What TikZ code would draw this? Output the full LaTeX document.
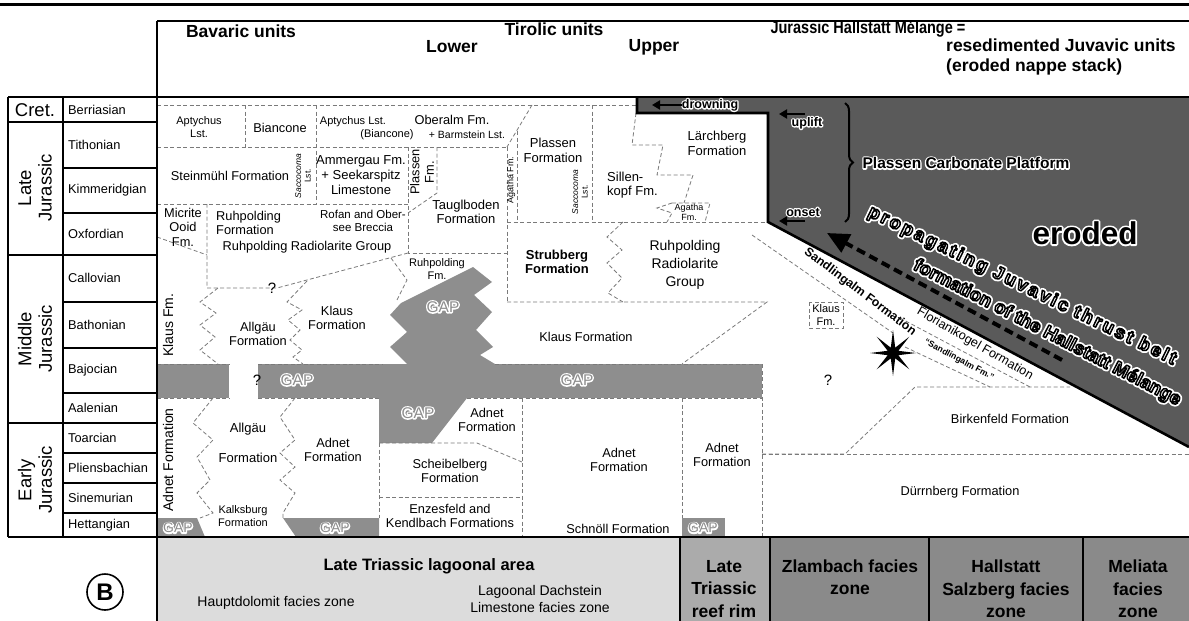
\documentclass[tikz,border=0pt]{standalone}
\usepackage{fontspec}
\setmainfont{Liberation Sans}
\newfontfamily\spacedfont{Liberation Sans}[LetterSpace=13]
\usetikzlibrary{arrows.meta,decorations.pathreplacing,shapes.geometric}

\definecolor{erodedgray}{HTML}{5A5A5A}
\definecolor{gapgray}{HTML}{8E8E8E}
\definecolor{dashgray}{HTML}{7A7A7A}
\definecolor{lagoongray}{HTML}{DCDCDC}
\definecolor{reefgray}{HTML}{ABABAB}
\definecolor{basingray}{HTML}{8A8A8A}

% text with a halo: a stroked copy under the filled text
\makeatletter
\newcommand{\halo}[4]{%
  \rlap{\pgfsys@invoke{#1 w 1 j 1 J 1 Tr}\textcolor{#2}{#4}\pgfsys@invoke{0 Tr}}\textcolor{#3}{#4}}
\newcommand{\whiteoutline}[1]{%
  \rlap{\pgfsys@invoke{5 w 1 j 1 J 1 Tr}\textcolor{white}{#1}\pgfsys@invoke{0 Tr}}%
  \textcolor{white}{\pgfsys@invoke{0 G 1.5 w 1 j 2 Tr}#1\pgfsys@invoke{0 Tr}}}
\makeatother

\begin{document}
\begin{tikzpicture}[x=1pt, y=-1pt,
  frame/.style={line width=2.4pt},
  rule/.style={line width=1.3pt},
  fmline/.style={dashgray, line width=0.8pt, dash pattern=on 4pt off 2.5pt},
  fm/.style={font=\fontsize{12.8}{14.5}\selectfont, align=center, inner sep=0pt},
  fmsmall/.style={font=\fontsize{11}{12.5}\selectfont, align=center, inner sep=0pt},
  fmtiny/.style={font=\fontsize{8.5}{9.5}\selectfont, align=center, inner sep=0pt},
  stage/.style={font=\fontsize{12.8}{14}\selectfont, anchor=west, inner sep=0pt},
  era/.style={font=\fontsize{18.5}{20.5}\selectfont, align=center, inner sep=0pt},
  head/.style={font=\bfseries\fontsize{17.5}{19.5}\selectfont, inner sep=0pt},
  facies/.style={font=\bfseries\fontsize{17.5}{22.5}\selectfont, align=center, inner sep=0pt},
  faciesplain/.style={font=\fontsize{14}{17}\selectfont, align=center, inner sep=0pt},
  gaplabel/.style={font=\fontsize{15.5}{16}\selectfont, inner sep=0pt},
  haloed/.style={font=\bfseries\fontsize{12.5}{13}\selectfont, inner sep=0pt},
  trend/.style={line width=2.6pt, -{Triangle[length=8pt,width=9pt]}}]

\useasboundingbox (0,0) rectangle (1189,621);

% fills
\fill[erodedgray] (637,97) -- (1189,97) -- (1189,447) -- (768,222) -- (768,113) -- (637,113) -- cycle;
\fill[gapgray] (157,364) rectangle (229,398);
\fill[gapgray] (258,364) rectangle (762,398);
\fill[gapgray] (407,364) -- (390,347) -- (407,332) -- (390,315) -- (401,303) -- (473,267) -- (492,282)
  -- (474,295) -- (492,312) -- (476,330) -- (493,347) -- (480,355) -- (495,364) -- cycle;
\fill[gapgray] (379,398) -- (467,398) -- (432,443) -- (379,443) -- cycle;
\fill[gapgray] (157,518) -- (197,518) -- (205,537) -- (157,537) -- cycle;
\fill[gapgray] (283,518) -- (379,518) -- (379,537) -- (296,537) -- cycle;
\fill[gapgray] (682,518) rectangle (725,537);
\fill[lagoongray] (157,537) rectangle (680,621);
\fill[reefgray] (680,537) rectangle (770,621);
\fill[basingray] (770,537) rectangle (1189,621);

% formation boundaries
\draw[fmline] (157,105) -- (636,105);
\draw[fmline] (245,105) -- (245,147);
\draw[fmline] (316,105) -- (316,204);
\draw[fmline] (157,147) -- (507,147);
\draw[fmline] (532,105) -- (507,147);
\draw[fmline] (517,131) -- (517,222);
\draw[fmline] (592,105) -- (592,222);
\draw[fmline] (157,204) -- (408,204);
\draw[fmline] (408,147) -- (408,253) -- (507,253);
\draw[fmline] (437,147) -- (437,193) -- (408,213);
\draw[fmline] (507,147) -- (507,302);
\draw[fmline] (507,222) -- (768,222);
\draw[fmline] (408,253) -- (277,288) -- (207,288) -- (207,204);
\draw[fmline] (157,237) -- (207,255);
\draw[fmline] (636,113) -- (632,145) -- (663,145) -- (657,175) -- (693,175) -- (684,203);
\draw[fmline] (672,203) -- (710,203) -- (705,222);
\draw[fmline] (672,203) -- (657,208) -- (672,213) -- (667,222);
\draw[fmline] (623,222) -- (607,237) -- (622,250) -- (607,263) -- (622,278) -- (608,293) -- (623,302);
\draw[fmline] (507,302) -- (767,302) -- (682,364);
\draw[fmline] (218,288) -- (200,302) -- (216,313) -- (200,325) -- (215,337) -- (200,350) -- (218,364);
\draw[fmline] (307,281) -- (287,302) -- (302,310) -- (288,320) -- (300,330) -- (290,340) -- (302,350)
  -- (293,357) -- (303,364);
\draw[fmline] (391,258) -- (407,280) -- (397,300);
\draw[fmline] (157,364) -- (229,364) (258,364) -- (382,364) (495,364) -- (762,364);
\draw[fmline] (157,398) -- (229,398) (258,398) -- (379,398) (467,398) -- (762,398);
\draw[fmline] (213,398) -- (193,423) -- (213,440) -- (197,457) -- (210,480) -- (197,493) -- (213,513) -- (200,518);
\draw[fmline] (295,398) -- (280,417) -- (295,440) -- (280,453) -- (295,467) -- (280,480) -- (295,493)
  -- (283,513) -- (283,518);
\draw[fmline] (379,443) -- (477,443) -- (522,462);
\draw[fmline] (379,497) -- (522,497);
\draw[fmline] (379,443) -- (379,518);
\draw[fmline] (522,398) -- (522,537);
\draw[fmline] (682,398) -- (682,518);
\draw[fmline] (762,364) -- (762,537);
\draw[fmline] (762,454) -- (845,454) -- (915,387) -- (1070,387);
\draw[fmline] (762,454) -- (1189,454);
\draw[fmline] (752,235) -- (893,333);
\draw[fmline] (809,302) rectangle (843,328);
\draw[fmline] (900,318) -- (1030,387);
\draw[fmline] (905,347) -- (990,387);

% frame
\draw[line width=3pt] (0,4) -- (1189,4);
\draw[frame] (157,21) -- (1189,21);
\draw[frame] (157,21) -- (157,621);
\draw[frame] (8,97) -- (1189,97);
\draw[frame] (8,537) -- (1189,537);
\draw[frame] (8,97) -- (8,537);
\draw[frame] (63,97) -- (63,537);
\draw[frame] (8,122) -- (157,122) (8,255) -- (157,255) (8,423) -- (157,423);
\foreach \yy in {168,213,302,348,393,453,483,513}
  \draw[rule] (63,\yy) -- (157,\yy);
\foreach \xx in {680,770,929,1083}
  \draw[frame] (\xx,537) -- (\xx,621);
\draw[line width=2.6pt, line join=miter] (637,97) -- (637,113) -- (768,113) -- (768,222) -- (1189,447);

% time scale
\node[era] (cret) at (35,110) {Cret.};
\node[era, rotate=90] (latej) at (35,188) {Late\\Jurassic};
\node[era, rotate=90] (midj) at (35,339) {Middle\\Jurassic};
\node[era, rotate=90] (earlyj) at (35,480) {Early\\Jurassic};
\node[stage] (berr) at (68,110) {Berriasian};
\node[stage] (tith) at (68,145) {Tithonian};
\node[stage] (kimm) at (68,190) {Kimmeridgian};
\node[stage] (oxf) at (68,234) {Oxfordian};
\node[stage] (call) at (68,278) {Callovian};
\node[stage] (bath) at (68,325) {Bathonian};
\node[stage] (baj) at (68,370) {Bajocian};
\node[stage] (aal) at (68,408) {Aalenian};
\node[stage] (toarc) at (68,438) {Toarcian};
\node[stage] (plie) at (68,468) {Pliensbachian};
\node[stage] (sine) at (68,498) {Sinemurian};
\node[stage] (hett) at (68,525) {Hettangian};

% headings
\node[head] (bavaric) at (241,31) {Bavaric units};
\node[head] (tirolic) at (554,29) {Tirolic units};
\node[head] (lower) at (452,47) {Lower};
\node[head] (upper) at (654,47) {Upper};
\node[head] (melange) at (868,29) {\scalebox{0.83}[1]{Jurassic Hallstatt Mélange =}};
\node[head, align=left, anchor=west] (juvavic) at (946,57) {resedimented Juvavic units\\(eroded nappe stack)};

% Berriasian to Oxfordian
\node[fmsmall] (aptychus) at (199,127) {Aptychus\\Lst.};
\node[fm] (biancone) at (280,128) {Biancone};
\node[fmsmall] (aptychusb) at (353,122) {Aptychus Lst.};
\node[fmsmall] (bianconeb) at (387,135) {(Biancone)};
\node[fm] (oberalm) at (452,120) {Oberalm Fm.};
\node[fmsmall, font=\fontsize{10.5}{12}\selectfont] (barmstein) at (467,135) {+ Barmstein Lst.};
\node[fm] (steinmuehl) at (230,176) {Steinmühl Formation};
\node[fmtiny, rotate=90] (saccoa) at (303,176) {{\itshape Saccocoma}\\Lst.};
\node[fm, font=\fontsize{13}{15}\selectfont] (ammergau) at (361,175) {Ammergau Fm.\\+ Seekarspitz\\Limestone};
\node[fm, rotate=90] (plassenfm) at (422,172) {Plassen\\Fm.};
\node[fm, font=\fontsize{13}{14.5}\selectfont] (tauglboden) at (466,212) {Tauglboden\\Formation};
\node[fmtiny, font=\fontsize{9}{10}\selectfont, rotate=90] (agathaa) at (511,180) {Agatha Fm.};
\node[fm, font=\fontsize{13}{15}\selectfont] (plassen) at (553,150) {Plassen\\Formation};
\node[fmtiny, rotate=90] (saccob) at (580,192) {{\itshape Saccocoma}\\Lst.};
\node[fm, font=\fontsize{13}{15}\selectfont] (laerchberg) at (717,143) {Lärchberg\\Formation};
\node[fm, font=\fontsize{13}{14.5}\selectfont, align=left, anchor=west] (sillenkopf) at (607,185) {Sillen-\\kopf Fm.};
\node[fmtiny, font=\fontsize{9}{10}\selectfont] (agathab) at (689,212) {Agatha\\Fm.};
\node[fm] (micrite) at (183,227) {Micrite\\Ooid\\Fm.};
\node[fm, align=left, anchor=west] (ruhpfm) at (216,223) {Ruhpolding\\Formation};
\node[fm] (ruhpgroup) at (307,247) {Ruhpolding Radiolarite Group};
\node[fmsmall, font=\fontsize{11.5}{12.5}\selectfont] (rofan) at (363,221) {Rofan and Ober-\\see Breccia};
\node[fm, font=\bfseries\fontsize{13}{14.5}\selectfont] (strubberg) at (557,262) {Strubberg\\Formation};
\node[fm, font=\fontsize{14}{18}\selectfont] (ruhpgroupb) at (685,265) {Ruhpolding\\Radiolarite\\Group};

% Callovian to Aalenian
\node[fm, font=\fontsize{14}{14}\selectfont, rotate=90] (klausfm) at (168,325) {Klaus Fm.};
\node[fm] (allgaeu) at (258,334) {Allgäu\\Formation};
\node[fm] (klausa) at (337,318) {Klaus\\Formation};
\node[fmsmall] (ruhpsmall) at (437,269) {Ruhpolding\\Fm.};
\node[fm] (klausb) at (586,337) {Klaus Formation};
\node[fm, font=\fontsize{15}{15}\selectfont] (querya) at (272,288) {?};
\node[fm, font=\fontsize{15}{15}\selectfont] (queryb) at (257,380) {?};
\node[gaplabel] (gapa) at (443,307) {\halo{2.8}{white}{gapgray}{GAP}};
\node[gaplabel] (gapb) at (297,380) {\halo{2.8}{white}{gapgray}{GAP}};
\node[gaplabel] (gapc) at (577,380) {\halo{2.8}{white}{gapgray}{GAP}};
\node[gaplabel] (gapd) at (418,413) {\halo{2.8}{white}{gapgray}{GAP}};

% Toarcian to Hettangian
\node[fm, font=\fontsize{14}{14}\selectfont, rotate=90] (adneta) at (168,460) {Adnet Formation};
\node[fm, font=\fontsize{13}{15}\selectfont] (allgaeub) at (248,443) {Allgäu\\[15pt]Formation};
\node[fmsmall] (kalksburg) at (243,516) {Kalksburg\\Formation};
\node[fm] (adnetb) at (333,450) {Adnet\\Formation};
\node[fm] (adnetc) at (487,420) {Adnet\\Formation};
\node[fm] (scheibelberg) at (450,471) {Scheibelberg\\Formation};
\node[fm] (enzesfeld) at (450,516) {Enzesfeld and\\Kendlbach Formations};
\node[fm] (adnetd) at (619,460) {Adnet\\Formation};
\node[fm] (adnete) at (722,455) {Adnet\\Formation};
\node[fm] (schnoell) at (618,529) {Schnöll Formation};
\node[gaplabel, font=\fontsize{14}{14}\selectfont] (gape) at (178,528) {\halo{2.6}{white}{gapgray}{GAP}};
\node[gaplabel, font=\fontsize{14}{14}\selectfont] (gapf) at (335,528) {\halo{2.6}{white}{gapgray}{GAP}};
\node[gaplabel, font=\fontsize{14}{14}\selectfont] (gapg) at (703,528) {\halo{2.6}{white}{gapgray}{GAP}};

% Hallstatt Melange
\node[fm, font=\bfseries\fontsize{12.3}{13}\selectfont, rotate=-37] (sandlinga) at (860,292) {Sandlingalm Formation};
\node[fm, font=\fontsize{12.6}{13}\selectfont, rotate=-30] (florian) at (975,344) {Florianikogel Formation};
\node[fm, font=\bfseries\fontsize{8.6}{9}\selectfont, rotate=-28] (sandlingb) at (959,360) {“Sandlingalm Fm.”};
\node[fmsmall] (klausc) at (826,315) {Klaus\\Fm.};
\node[fm, font=\fontsize{15}{15}\selectfont] (queryc) at (828,380) {?};
\node[star, star points=8, star point ratio=4, fill=black, minimum size=46pt, inner sep=0pt] (blast) at (893,353) {};
\node[fm] (birkenfeld) at (1010,419) {Birkenfeld Formation};
\node[fm] (duerrnberg) at (960,492) {Dürrnberg Formation};

% platform history
\node[haloed] (drowning) at (710,105) {\halo{2.6}{white}{black}{drowning}};
\node[haloed] (uplift) at (807,123) {\halo{2.6}{white}{black}{uplift}};
\node[haloed] (onset) at (803,212) {\halo{2.6}{white}{black}{onset}};
\coordinate (drownend) at (652,105);
\coordinate (upliftfrom) at (805,114);
\coordinate (upliftto) at (779,114);
\coordinate (onsetfrom) at (805,221);
\coordinate (onsetto) at (779,221);
\draw[trend] (drowning.west) -- (drownend);
\draw[trend] (upliftfrom) -- (upliftto);
\draw[trend] (onsetfrom) -- (onsetto);
\coordinate (bracetop) at (845,103);
\coordinate (bracebot) at (845,222);
\draw[line width=2pt, decorate, decoration={brace, amplitude=8pt}] (bracetop) -- (bracebot);
\node[haloed, font=\bfseries\fontsize{15.5}{16}\selectfont] (platform) at (966,163) {\halo{2.8}{white}{black}{Plassen Carbonate Platform}};
\node[haloed, font=\bfseries\fontsize{31.5}{32}\selectfont] (eroded) at (1085,233) {\halo{3.6}{white}{black}{eroded}};
\coordinate (thrusttail) at (1062,360);
\coordinate (thrusthead) at (827,233);
\draw[line width=4pt, dash pattern=on 9pt off 5pt, -{Triangle[length=22pt,width=20pt]}] (thrusttail) -- (thrusthead);
\node[inner sep=0pt, font=\spacedfont\bfseries\fontsize{18.5}{19}\selectfont, rotate=-26] (thrust) at (1022,286) {\whiteoutline{propagating Juvavic thrust belt}};
\node[inner sep=0pt, font=\bfseries\fontsize{18.5}{19}\selectfont, rotate=-27.3] (formation) at (1047,333) {\whiteoutline{formation of the Hallstatt Mélange}};

% facies belts
\node[font=\bfseries\fontsize{16.5}{18}\selectfont, inner sep=0pt] (lagoon) at (429,566) {Late Triassic lagoonal area};
\node[faciesplain] (hauptdol) at (276,603) {Hauptdolomit facies zone};
\node[faciesplain] (dachstein) at (540,599) {Lagoonal Dachstein\\Limestone facies zone};
\node[facies] (reefrim) at (724,589) {Late\\Triassic\\reef rim};
\node[facies] (zlambach) at (850,577) {Zlambach facies\\zone};
\node[facies] (hallstatt) at (1006,589) {Hallstatt\\Salzberg facies\\zone};
\node[facies] (meliata) at (1138,589) {Meliata\\facies\\zone};
\node[circle, draw, line width=1.6pt, minimum size=36pt, inner sep=0pt, font=\bfseries\fontsize{24}{24}\selectfont] (panelB) at (105,592) {B};
\end{tikzpicture}
\end{document}
